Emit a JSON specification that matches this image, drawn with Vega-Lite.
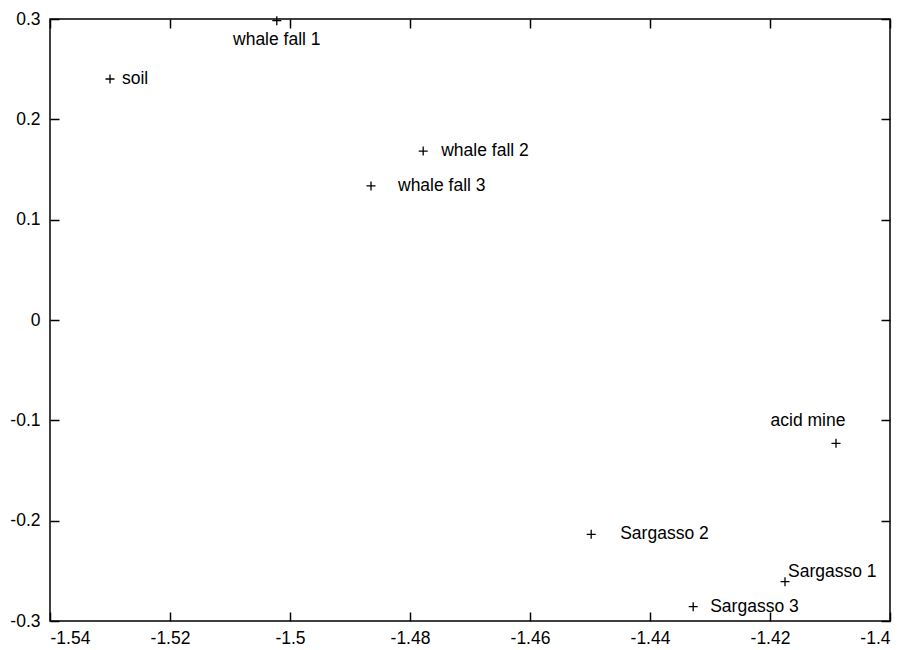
{
  "$schema": "https://vega.github.io/schema/vega-lite/v6.json",
  "width": 840,
  "height": 602,
  "autosize": {"type": "none"},
  "padding": {"left": 50, "top": 19, "right": 17, "bottom": 29},
  "background": "white",
  "config": {
    "view": {"stroke": "black", "strokeWidth": 1.5},
    "font": "Liberation Sans",
    "axis": {"grid": false, "domain": false, "tickColor": "black", "tickWidth": 1.5, "tickSize": -9, "labelFont": "Liberation Sans", "labelFontSize": 17.5, "labelColor": "black", "title": null}
  },
  "data": {
    "values": [
      {"label": "soil", "x": -1.53, "y": 0.2402},
      {"label": "whale fall 1", "x": -1.5022, "y": 0.2983},
      {"label": "whale fall 2", "x": -1.4778, "y": 0.1684},
      {"label": "whale fall 3", "x": -1.4865, "y": 0.1336},
      {"label": "acid mine", "x": -1.409, "y": -0.1229},
      {"label": "Sargasso 2", "x": -1.4498, "y": -0.2136},
      {"label": "Sargasso 1", "x": -1.4175, "y": -0.2608},
      {"label": "Sargasso 3", "x": -1.4328, "y": -0.2857}
    ]
  },
  "layer": [
    {
      "mark": {"type": "point", "shape": "M-1,0L1,0M0,-1L0,1", "filled": false, "stroke": "black", "strokeWidth": 1.3, "size": 81, "opacity": 1},
      "encoding": {
        "x": {"field": "x", "type": "quantitative", "scale": {"domain": [-1.54, -1.4], "nice": false, "zero": false},
              "axis": {"orient": "bottom", "values": [-1.54, -1.52, -1.5, -1.48, -1.46, -1.44, -1.42, -1.4], "labelPadding": 17, "labelExpr": "toString(round(datum.value*100)/100)"}},
        "y": {"field": "y", "type": "quantitative", "scale": {"domain": [-0.3, 0.3], "nice": false, "zero": false},
              "axis": {"orient": "left", "values": [-0.3, -0.2, -0.1, 0, 0.1, 0.2, 0.3], "labelPadding": 19, "labelExpr": "toString(round(datum.value*10)/10)"}}
      }
    },
    {
      "mark": {"type": "point", "opacity": 0},
      "encoding": {
        "x": {"field": "x", "type": "quantitative", "scale": {"domain": [-1.54, -1.4], "nice": false, "zero": false},
              "axis": {"orient": "top", "values": [-1.54, -1.52, -1.5, -1.48, -1.46, -1.44, -1.42, -1.4], "labels": false}},
        "y": {"field": "y", "type": "quantitative", "scale": {"domain": [-0.3, 0.3], "nice": false, "zero": false},
              "axis": {"orient": "right", "values": [-0.3, -0.2, -0.1, 0, 0.1, 0.2, 0.3], "labels": false}}
      }
    },
    {
      "transform": [{"filter": "datum.label == 'soil'"}],
      "mark": {"type": "text", "align": "left", "baseline": "middle", "dx": 12, "dy": 0, "fontSize": 17.5, "color": "black"},
      "encoding": {"x": {"field": "x", "type": "quantitative", "axis": null}, "y": {"field": "y", "type": "quantitative", "axis": null}, "text": {"field": "label"}}
    },
    {
      "transform": [{"filter": "datum.label == 'whale fall 1'"}],
      "mark": {"type": "text", "align": "center", "baseline": "middle", "dx": 0, "dy": 19, "fontSize": 17.5, "color": "black"},
      "encoding": {"x": {"field": "x", "type": "quantitative", "axis": null}, "y": {"field": "y", "type": "quantitative", "axis": null}, "text": {"field": "label"}}
    },
    {
      "transform": [{"filter": "datum.label == 'whale fall 2'"}],
      "mark": {"type": "text", "align": "left", "baseline": "middle", "dx": 18, "dy": 0, "fontSize": 17.5, "color": "black"},
      "encoding": {"x": {"field": "x", "type": "quantitative", "axis": null}, "y": {"field": "y", "type": "quantitative", "axis": null}, "text": {"field": "label"}}
    },
    {
      "transform": [{"filter": "datum.label == 'whale fall 3'"}],
      "mark": {"type": "text", "align": "left", "baseline": "middle", "dx": 27, "dy": 0, "fontSize": 17.5, "color": "black"},
      "encoding": {"x": {"field": "x", "type": "quantitative", "axis": null}, "y": {"field": "y", "type": "quantitative", "axis": null}, "text": {"field": "label"}}
    },
    {
      "transform": [{"filter": "datum.label == 'acid mine'"}],
      "mark": {"type": "text", "align": "center", "baseline": "middle", "dx": -28, "dy": -22, "fontSize": 17.5, "color": "black"},
      "encoding": {"x": {"field": "x", "type": "quantitative", "axis": null}, "y": {"field": "y", "type": "quantitative", "axis": null}, "text": {"field": "label"}}
    },
    {
      "transform": [{"filter": "datum.label == 'Sargasso 2'"}],
      "mark": {"type": "text", "align": "left", "baseline": "middle", "dx": 29, "dy": 0, "fontSize": 17.5, "color": "black"},
      "encoding": {"x": {"field": "x", "type": "quantitative", "axis": null}, "y": {"field": "y", "type": "quantitative", "axis": null}, "text": {"field": "label"}}
    },
    {
      "transform": [{"filter": "datum.label == 'Sargasso 1'"}],
      "mark": {"type": "text", "align": "left", "baseline": "middle", "dx": 3, "dy": -10, "fontSize": 17.5, "color": "black"},
      "encoding": {"x": {"field": "x", "type": "quantitative", "axis": null}, "y": {"field": "y", "type": "quantitative", "axis": null}, "text": {"field": "label"}}
    },
    {
      "transform": [{"filter": "datum.label == 'Sargasso 3'"}],
      "mark": {"type": "text", "align": "left", "baseline": "middle", "dx": 17, "dy": 0, "fontSize": 17.5, "color": "black"},
      "encoding": {"x": {"field": "x", "type": "quantitative", "axis": null}, "y": {"field": "y", "type": "quantitative", "axis": null}, "text": {"field": "label"}}
    }
  ],
  "resolve": {"axis": {"x": "independent", "y": "independent"}}
}
